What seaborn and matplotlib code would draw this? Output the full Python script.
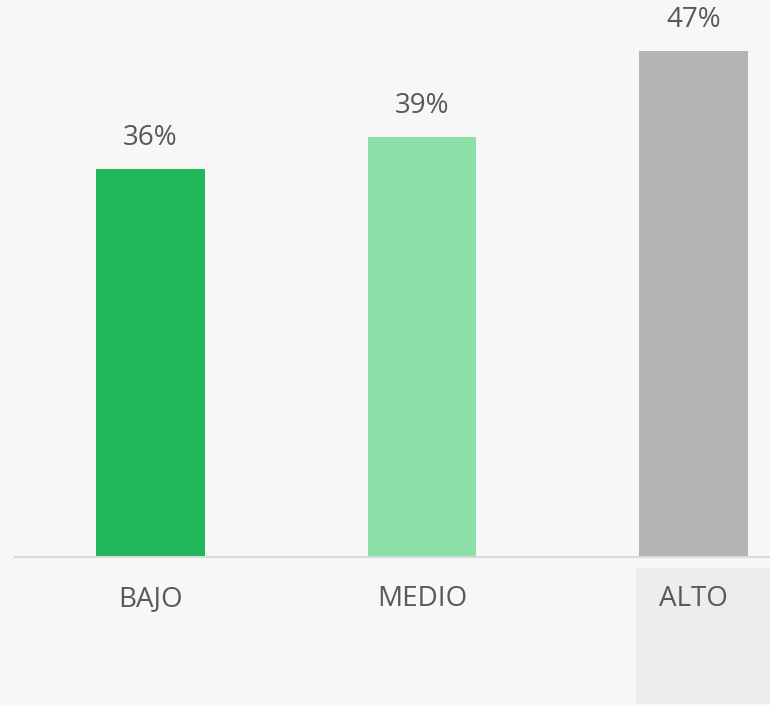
import matplotlib
matplotlib.use("Agg")
import matplotlib.pyplot as plt
from matplotlib.patches import Rectangle
import pandas as pd
import seaborn as sns

# data
categories = ["BAJO", "MEDIO", "ALTO"]
values = [36, 39, 47]
colors = ["#21B65A", "#8DDFA8", "#B3B5B4"]

sns.set_theme(style="white")
plt.rcParams["font.family"] = ["Open Sans", "DejaVu Sans"]

BG = "#F7F7F7"
TEXT = "#595959"

df = pd.DataFrame({"nivel": categories, "pct": values})

fig = plt.figure(figsize=(7.7, 7.06), dpi=100, facecolor=BG)

# light highlight box behind the ALTO label
fig.patches.append(Rectangle((636 / 770, 2 / 706), 134 / 770, 136 / 706,
                             transform=fig.transFigure, facecolor="#EDEDED",
                             edgecolor="none", zorder=-1))

ax = fig.add_axes([15 / 770, 149 / 706, 755 / 770, 557 / 706])
ax.set_facecolor("none")
ax.set_zorder(1)

sns.barplot(data=df, x="nivel", y="pct", hue="nivel", palette=colors,
            order=categories, hue_order=categories, width=0.4,
            legend=False, saturation=1, linewidth=0, ax=ax)

ax.set_xlim(-0.499, 2.282)
ax.set_ylim(0, 51.7)

# value labels
for container in ax.containers:
    ax.bar_label(container, labels=[f"{v:.0f}%" for v in container.datavalues],
                 padding=12, fontsize=20, color=TEXT, clip_on=False)

ax.set_xlabel("")
ax.set_ylabel("")
ax.set_yticks([])
ax.tick_params(axis="x", length=0, pad=20, labelsize=20, labelcolor=TEXT)

for side in ["left", "right", "top"]:
    ax.spines[side].set_visible(False)
ax.spines["bottom"].set_color("#D9D9D9")
ax.spines["bottom"].set_linewidth(1.5)

fig.savefig("out.png", dpi=100, facecolor=BG)
